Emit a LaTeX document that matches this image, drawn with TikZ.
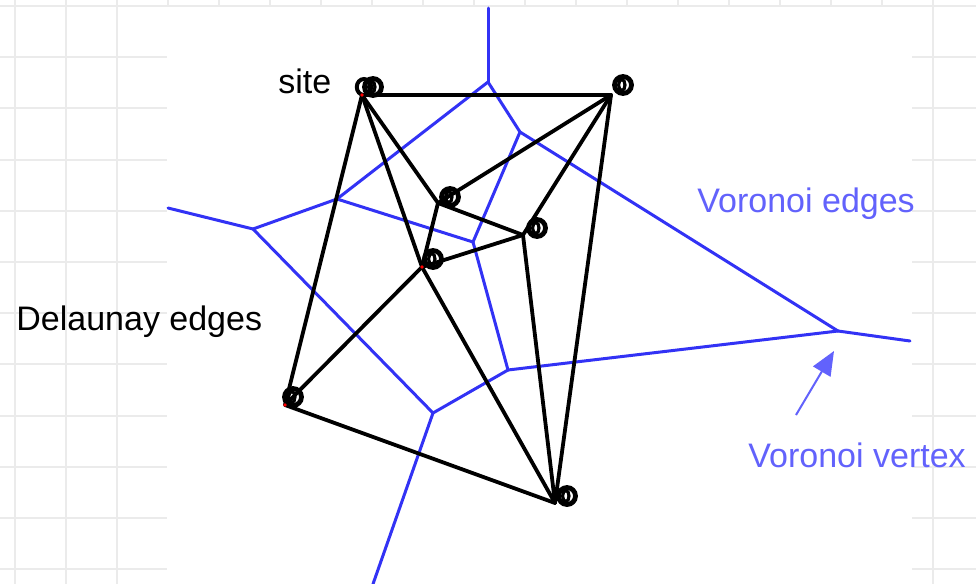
\documentclass[tikz,border=0pt]{standalone}
\usepackage{fontspec}
\setmainfont{Liberation Sans}
\usepackage{xcolor}
\usepackage{tikz}
\usetikzlibrary{arrows.meta}
\definecolor{gridgray}{RGB}{235,235,235}
\definecolor{vorblue}{RGB}{50,50,245}
\definecolor{labelblue}{RGB}{98,98,252}

\begin{document}
\begin{tikzpicture}[x=0.5pt, y=-0.5pt,
  delaunay/.style={line width=1.9pt, line cap=round},
  voronoi/.style={vorblue, line width=1.5pt, line cap=round, line join=round},
  sitemark/.style={circle, draw, line width=2.4pt, minimum size=8.5pt, inner sep=0pt},
  lbl/.style={font=\fontsize{17}{20}\selectfont, inner sep=0pt, anchor=base west}]
\useasboundingbox (0,0) rectangle (976,584);
\foreach \x in {0,...,18} \draw[gridgray, line width=1pt] (15+51*\x,0) -- (15+51*\x,584);
\foreach \y in {0,...,11} \draw[gridgray, line width=1pt] (0,6+51.2*\y) -- (976,6+51.2*\y);
\fill[white] (167,7) rectangle (912,584);

\coordinate (v1) at (488,82);
\coordinate (v2) at (337,199);
\coordinate (v3) at (253,229);
\coordinate (v4) at (473,242);
\coordinate (v5) at (520,132);
\coordinate (v6) at (838,331);
\coordinate (v7) at (508,370);
\coordinate (v8) at (433,413);
\coordinate (r1) at (488,8);
\coordinate (r2) at (168,208);
\coordinate (r3) at (910,341);
\coordinate (r4) at (373,584);
\foreach \a/\b in {r1/v1, v1/v2, v1/v5, v2/v3, v2/v4, v3/r2, v3/v8, v4/v5, v4/v7, v5/v6, v6/r3, v6/v7, v7/v8, v8/r4}
  \draw[voronoi] (\a) -- (\b);

\coordinate (s1) at (362,95);
\coordinate (s2) at (611,95);
\coordinate (s3) at (438,203);
\coordinate (s4) at (523,235);
\coordinate (s5) at (422,267);
\coordinate (s6) at (285,405);
\coordinate (s7) at (555,503);
\foreach \a/\b in {1/2, 1/6, 1/5, 1/3, 2/3, 2/4, 2/7, 3/4, 3/5, 4/5, 5/6, 5/7, 4/7, 6/7}
  \draw[delaunay] (s\a) -- (s\b);

\foreach \n/\dx/\dy in {1/5.5/4, 2/6/5, 3/6/3, 4/7/3.5, 5/5.5/4, 6/4/4, 7/6/3.5} {
  \node[sitemark, xshift=\dx pt, yshift=\dy pt] (c\n) at (s\n) {};
  \draw[line width=1.6pt] ([xshift=-0.6pt]c\n.center) ellipse [x radius=1.6pt, y radius=2.8pt];
}
\draw[line width=2pt] ([xshift=-4.5pt]c1.center) ellipse [x radius=3.6pt, y radius=4pt];
\foreach \n in {1,5,6} \fill[red] (s\n) circle [radius=0.9pt];

\node[lbl] (sitelbl) at (278,93) {site};
\node[lbl] (dellbl) at (16,330) {Delaunay edges};
\node[lbl, labelblue] (voredgelbl) at (697,212) {Voronoi edges};
\node[lbl, labelblue] (vorvertlbl) at (748,467) {Voronoi vertex};
\coordinate (ptrtail) at (796,415);
\coordinate (ptrtip) at (834,351);
\draw[labelblue, line width=1pt, -{Triangle[length=12pt, width=10pt]}] (ptrtail) -- (ptrtip);
\end{tikzpicture}
\end{document}
